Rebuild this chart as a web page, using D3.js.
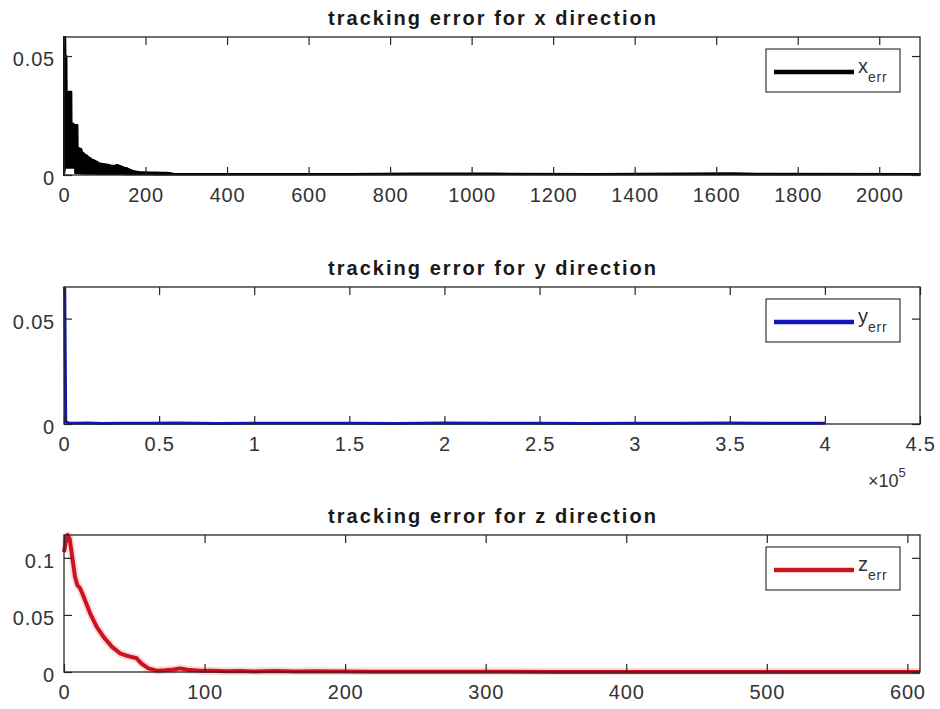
<!DOCTYPE html>
<html>
<head>
<meta charset="utf-8">
<script src="https://cdn.jsdelivr.net/npm/d3@7"></script>
<style>
  html, body { margin: 0; padding: 0; background: #fff; }
  svg { display: block; }
  text { font-family: "Liberation Sans", Arial, Helvetica, sans-serif; }
</style>
</head>
<body>
<svg id="chart" width="940" height="709"></svg>
<script>
// ---- x-direction tracking error: dense oscillation, stored as upper / lower envelope ----
const xErrTime = [0, 0.5, 3, 3.5, 6, 6.5, 18, 18.5, 27, 27.5, 33, 33.5, 42, 45, 48, 52, 56, 60, 64, 68, 73, 78, 82, 86, 93, 100, 108, 115, 122, 130, 136, 142, 148, 155, 162, 168, 176, 185, 197, 210, 225, 240, 250, 258, 265, 270, 400, 700, 855, 1050, 1300, 1640, 1700, 2100];
const xErrHigh = [0.058, 0.058, 0.058, 0.050, 0.050, 0.035, 0.035, 0.022, 0.021, 0.021, 0.021, 0.0115, 0.011, 0.0095, 0.0092, 0.0085, 0.0082, 0.0075, 0.0072, 0.0065, 0.0062, 0.0058, 0.0054, 0.005, 0.0047, 0.0045, 0.0043, 0.004, 0.0038, 0.0042, 0.0039, 0.0035, 0.0031, 0.0028, 0.0022, 0.0018, 0.0015, 0.0013, 0.0012, 0.0011, 0.001, 0.0009, 0.0009, 0.0008, 0.0006, 0.0004, 0.0004, 0.0004, 0.0006, 0.0006, 0.0004, 0.0007, 0.0005, 0.0004];
const xErrLow  = [0.0, 0.001, 0.003, 0.003, 0.003, 0.003, 0.003, 0.003, 0.003, 0.0008, 0.0008, 0.0008, 0.0006, 0.0006, 0.0006, 0.0005, 0.0005, 0.0005, 0.0005, 0.0005, 0.0005, 0.0005, 0.0004, 0.0004, 0.0004, 0.0004, 0.0004, 0.0004, 0.0004, 0.0004, 0.0004, 0.0004, 0.0003, 0.0003, 0.0003, 0.0003, 0.0003, 0.0003, 0.0003, 0.0003, 0.0002, 0.0002, 0.0002, 0.0002, 0.0002, 0.0002, 0.0002, 0.0002, 0.0003, 0.0003, 0.0002, 0.0003, 0.0002, 0.0002];

// ---- y-direction tracking error ----
const yErrTime = [0, 400, 900, 2500, 6000, 12000, 20000, 30000, 45000, 60000, 80000, 100000, 125000, 150000, 175000, 200000, 225000, 250000, 275000, 300000, 325000, 350000, 375000, 400000];
const yErrVal  = [0.065, 0.064, 0.0012, 0.0004, 0.0003, 0.0005, 0.0002, 0.0004, 0.0003, 0.0005, 0.0002, 0.0004, 0.0003, 0.0004, 0.0002, 0.0005, 0.0003, 0.0004, 0.0002, 0.0004, 0.0003, 0.0005, 0.0003, 0.0004];

// ---- z-direction tracking error ----
const zErrTime = [0, 1.5, 2.5, 4, 5.5, 7.8, 9.5, 11.4, 13, 14.9, 18.5, 23.2, 28, 34, 39.8, 44, 47, 51.7, 55, 60, 66, 72, 78, 82.5, 88, 96.7, 105, 115, 125, 135, 150, 165, 180, 196, 220, 260, 300, 350, 400, 450, 500, 550, 609];
const zErrVal  = [0.105, 0.115, 0.12, 0.117, 0.104, 0.0836, 0.076, 0.0734, 0.069, 0.063, 0.0516, 0.0398, 0.031, 0.0222, 0.0164, 0.0145, 0.0135, 0.012, 0.0076, 0.0032, 0.0012, 0.0015, 0.0022, 0.0032, 0.002, 0.0012, 0.001, 0.0006, 0.0008, 0.0005, 0.0009, 0.0004, 0.0007, 0.0004, 0.0003, 0.0002, 0.0002, 0.0001, 0.0001, 0.0001, 0.0001, 0.0001, 0.0001];

// ---- axis ticks and labels ----
const xTicksX = [0, 200, 400, 600, 800, 1000, 1200, 1400, 1600, 1800, 2000];
const yTicksX = [0, 0.05];
const xTicksY = [0, 50000, 100000, 150000, 200000, 250000, 300000, 350000, 400000, 450000];
const xTickLabelsY = ["0", "0.5", "1", "1.5", "2", "2.5", "3", "3.5", "4", "4.5"];
const yTicksY = [0, 0.05];
const xTicksZ = [0, 100, 200, 300, 400, 500, 600];
const yTicksZ = [0, 0.05, 0.1];

const titles = ["tracking error for x direction", "tracking error for y direction", "tracking error for z direction"];
const legendMain = ["x", "y", "z"];
const legendSub = "err";

// ---- layout ----
const svg = d3.select("#chart");
const W = 940, H = 709;
svg.append("rect").attr("width", W).attr("height", H).attr("fill", "#fff");

const left = 64, right = 920;
const axisColor = "#262626";
const labelColor = "#333";

function drawPanel(cfg) {
  const { top, bottom, xDomain, yDomain, xTicks, xLabels, yTicks, color, title, legendKey } = cfg;
  const x = d3.scaleLinear().domain(xDomain).range([left, right]);
  const y = d3.scaleLinear().domain(yDomain).range([bottom, top]);
  const g = svg.append("g");

  // plot background
  g.append("rect").attr("x", left).attr("y", top)
    .attr("width", right - left).attr("height", bottom - top).attr("fill", "#fff");

  const clipId = "clip" + legendKey;
  svg.append("clipPath").attr("id", clipId).append("rect")
    .attr("x", left - 2).attr("y", top - 3).attr("width", right - left + 4).attr("height", bottom - top + 6);

  const plot = g.append("g").attr("clip-path", `url(#${clipId})`);
  cfg.draw(plot, x, y);

  const fmt = xLabels ? ((d, i) => xLabels[i]) : (d => d3.format("")(d));

  // bottom axis (ticks inward)
  const bx = g.append("g").attr("transform", `translate(0,${bottom})`)
    .call(d3.axisBottom(x).tickValues(xTicks).tickSizeInner(-8).tickSizeOuter(0).tickPadding(13).tickFormat(fmt));
  // top axis
  const tx = g.append("g").attr("transform", `translate(0,${top})`)
    .call(d3.axisTop(x).tickValues(xTicks).tickSizeInner(-8).tickSizeOuter(0).tickFormat(""));
  // left axis
  const ly = g.append("g").attr("transform", `translate(${left},0)`)
    .call(d3.axisLeft(y).tickValues(yTicks).tickSizeInner(-8).tickSizeOuter(0).tickPadding(9).tickFormat(d => d === 0 ? "0" : String(+d.toFixed(3))));
  // right axis
  const ry = g.append("g").attr("transform", `translate(${right},0)`)
    .call(d3.axisRight(y).tickValues(yTicks).tickSizeInner(-8).tickSizeOuter(0).tickFormat(""));

  [bx, tx, ly, ry].forEach(a => {
    a.select(".domain").remove();
    a.selectAll(".tick line").attr("stroke", axisColor).attr("stroke-width", 1.2);
    a.selectAll("text").attr("fill", labelColor).attr("font-size", 20)
      .attr("font-family", "'Liberation Sans', Arial, sans-serif").attr("letter-spacing", "0.8px");
  });
  ly.selectAll("text").attr("dy", "0.48em");

  // box
  g.append("rect").attr("x", left).attr("y", top)
    .attr("width", right - left).attr("height", bottom - top)
    .attr("fill", "none").attr("stroke", axisColor).attr("stroke-width", 1.3);

  // title
  g.append("text").attr("x", (left + right) / 2).attr("y", top - 12)
    .attr("text-anchor", "middle").attr("font-size", 20).attr("font-weight", "bold")
    .attr("fill", "#1a1a1a").attr("textLength", 328).attr("lengthAdjust", "spacing")
    .text(title);

  // legend
  const lx = 766, lyTop = top + 12;
  g.append("rect").attr("x", lx).attr("y", lyTop).attr("width", 134).attr("height", 43)
    .attr("fill", "#fff").attr("stroke", axisColor).attr("stroke-width", 1.1);
  g.append("line").attr("x1", 774).attr("x2", 854).attr("y1", top + 35).attr("y2", top + 35)
    .attr("stroke", color).attr("stroke-width", 4.5);
  const lt = g.append("text").attr("x", 858).attr("y", top + 36)
    .attr("font-size", 20).attr("fill", labelColor);
  lt.append("tspan").text(legendKey);
  lt.append("tspan").attr("dy", 9).attr("font-size", 14).attr("letter-spacing", "0.8px").text(legendSub);

  return { g, x, y };
}

// panel 1: x error (filled band between envelopes)
drawPanel({
  top: 37, bottom: 175, xDomain: [0, 2100], yDomain: [0, 0.058],
  xTicks: xTicksX, yTicks: yTicksX, color: "#000", title: titles[0], legendKey: legendMain[0],
  draw: (p, x, y) => {
    const idx = d3.range(xErrTime.length);
    const band = d3.area()
      .x(i => x(xErrTime[i])).y0(i => y(xErrLow[i])).y1(i => y(xErrHigh[i]));
    p.append("path").datum(idx).attr("d", band)
      .attr("fill", "#000").attr("stroke", "#000").attr("stroke-width", 2).attr("stroke-linejoin", "round");
  }
});

// panel 2: y error
const p2 = drawPanel({
  top: 287, bottom: 424, xDomain: [0, 450000], yDomain: [0, 0.065],
  xTicks: xTicksY, xLabels: xTickLabelsY, yTicks: yTicksY, color: "#1515b5", title: titles[1], legendKey: legendMain[1],
  draw: (p, x, y) => {
    const idx = d3.range(yErrTime.length);
    const line = d3.line().x(i => x(yErrTime[i])).y(i => y(yErrVal[i]));
    p.append("path").datum(idx).attr("d", line)
      .attr("fill", "none").attr("stroke", "#1515b5").attr("stroke-width", 3).attr("stroke-linejoin", "round");
  }
});
// exponent label for the scaled x axis
const ex = p2.g.append("text").attr("x", 868).attr("y", 487).attr("font-size", 18).attr("fill", labelColor);
ex.append("tspan").text("\u00d710");
ex.append("tspan").attr("dy", -10).attr("font-size", 13).text("5");

// panel 3: z error
drawPanel({
  top: 535, bottom: 672, xDomain: [0, 609], yDomain: [0, 0.12],
  xTicks: xTicksZ, yTicks: yTicksZ, color: "#cc1420", title: titles[2], legendKey: legendMain[2],
  draw: (p, x, y) => {
    const idx = d3.range(zErrTime.length);
    const line = d3.line().curve(d3.curveLinear).x(i => x(zErrTime[i])).y(i => y(zErrVal[i]));
    p.append("path").datum(idx).attr("d", line)
      .attr("fill", "none").attr("stroke", "#f6b8b8").attr("stroke-opacity", 0.5).attr("stroke-width", 8);
    p.append("path").datum(idx).attr("d", line)
      .attr("fill", "none").attr("stroke", "#cc1420").attr("stroke-width", 4).attr("stroke-linejoin", "round");
  }
});
</script>
</body>
</html>
